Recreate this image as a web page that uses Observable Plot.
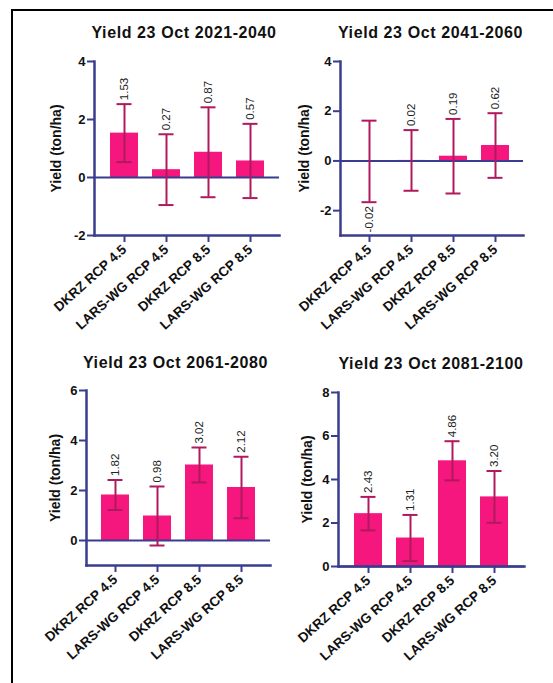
<!DOCTYPE html>
<html><head><meta charset="utf-8">
<script src="https://cdn.jsdelivr.net/npm/d3@7"></script>
<script src="https://cdn.jsdelivr.net/npm/@observablehq/plot@0.6"></script>
<style>
body{margin:0;background:#fff;width:553px;height:683px;position:relative;overflow:hidden;font-family:"Liberation Sans",Arial,sans-serif;}
.frame-l{position:absolute;left:11px;top:9px;width:2px;height:674px;background:#000}
.frame-t{position:absolute;left:11px;top:9px;width:542px;height:2px;background:#000}
.title{position:absolute;font-weight:bold;font-size:16px;letter-spacing:0.6px;line-height:16px;transform:translateX(-50%);white-space:nowrap;color:#111}
.panel{position:absolute}
</style></head><body>
<div class="frame-l"></div><div class="frame-t"></div>
<script>
// ---- data ----
const categories = ["DKRZ RCP 4.5", "LARS-WG RCP 4.5", "DKRZ RCP 8.5", "LARS-WG RCP 8.5"];
const titles = ["Yield 23 Oct 2021-2040", "Yield 23 Oct 2041-2060", "Yield 23 Oct 2061-2080", "Yield 23 Oct 2081-2100"];
const yLabel = "Yield (ton/ha)";
const mean2021 = [1.53, 0.27, 0.87, 0.57];
const err2021  = [1.00, 1.22, 1.55, 1.28];
const mean2041 = [-0.02, 0.02, 0.19, 0.62];
const err2041  = [1.64, 1.22, 1.50, 1.30];
const mean2061 = [1.82, 0.98, 3.02, 2.12];
const err2061  = [0.60, 1.18, 0.70, 1.23];
const mean2081 = [2.43, 1.31, 4.86, 3.20];
const err2081  = [0.77, 1.06, 0.90, 1.19];
const yDomains = [[-2, 4], [-3, 4], [-1, 6], [0, 8]];
const yTicks = [[-2, 0, 2, 4], [-2, 0, 2, 4], [0, 2, 4, 6], [0, 2, 4, 6, 8]];

const means = [mean2021, mean2041, mean2061, mean2081];
const errs = [err2021, err2041, err2061, err2081];

// ---- styling / layout ----
const barColor = "#f5177d", errColor = "#b0195e", axisColor = "#3a3d8f";
const layout = [
  {left: 0,   top: 45,  w: 285, h: 295, ml: 94, mr: 6,  mt: 16, mb: 105, yl: 37.5, tx: 184,   ty: 24.5},
  {left: 285, top: 45,  w: 268, h: 295, ml: 55, mr: 30, mt: 16, mb: 105, yl: 35.7, tx: 430.5, ty: 24.5},
  {left: 0,   top: 375, w: 285, h: 308, ml: 86, mr: 15, mt: 15, mb: 118, yl: 31,   tx: 175.5, ty: 354.5},
  {left: 285, top: 375, w: 268, h: 308, ml: 53, mr: 29, mt: 17, mb: 117, yl: 31,   tx: 431,   ty: 355.5}
];
const font = "'Liberation Sans', Arial, sans-serif";

for (let i = 0; i < 4; i++) {
  const L = layout[i];
  const data = categories.map((c, j) => ({c, m: means[i][j], e: errs[i][j]}));
  const chart = Plot.plot({
    width: L.w, height: L.h,
    marginLeft: L.ml, marginRight: L.mr, marginTop: L.mt, marginBottom: L.mb,
    style: {fontFamily: font, background: "transparent", overflow: "visible"},
    x: {domain: categories, padding: 0.34, label: null},
    y: {domain: yDomains[i], label: null},
    marks: [
      Plot.barY(data, {x: "c", y: "m", fill: barColor}),
      Plot.ruleY([0], {stroke: axisColor, strokeWidth: 2}),
      Plot.ruleX(data, {x: "c", y1: d => d.m - d.e, y2: d => d.m + d.e, stroke: errColor, strokeWidth: 2}),
      Plot.tickY(data, {x: "c", y: d => d.m + d.e, stroke: errColor, strokeWidth: 2, insetLeft: 6.5, insetRight: 6.5}),
      Plot.tickY(data, {x: "c", y: d => d.m - d.e, stroke: errColor, strokeWidth: 2, insetLeft: 6.5, insetRight: 6.5}),
      Plot.text(data.filter(d => d.m >= 0), {x: "c", y: d => d.m + d.e, text: d => d.m.toFixed(2), rotate: -90, textAnchor: "start", dy: -4, fontSize: 11.5, fill: "#222"}),
      Plot.text(data.filter(d => d.m < 0), {x: "c", y: d => d.m - d.e, text: d => d.m.toFixed(2), rotate: -90, textAnchor: "end", dy: 4, fontSize: 11.5, fill: "#222"}),
      Plot.frame({anchor: "left", stroke: axisColor, strokeWidth: 2.5}),
      Plot.frame({anchor: "bottom", stroke: axisColor, strokeWidth: 2.5}),
      Plot.axisY({ticks: yTicks[i], tickFormat: d => String(d), tickSize: 7, tickPadding: 2, stroke: axisColor, strokeWidth: 2, fill: "#111", fontWeight: "bold", fontSize: 13, label: null}),
      Plot.axisX({tickSize: 7, tickPadding: 5, tickRotate: -42, stroke: axisColor, strokeWidth: 2, fill: "#111", fontWeight: "bold", fontSize: 13.5, label: null}),
      Plot.text([yLabel], {frameAnchor: "left", textAnchor: "middle", dx: -L.yl, rotate: -90, fontWeight: "bold", fontSize: 14, fill: "#111"})
    ]
  });
  const wrap = document.createElement("div");
  wrap.className = "panel";
  wrap.style.left = L.left + "px";
  wrap.style.top = L.top + "px";
  wrap.appendChild(chart);
  document.body.appendChild(wrap);
  const t = document.createElement("div");
  t.className = "title";
  t.textContent = titles[i];
  t.style.left = L.tx + "px";
  t.style.top = L.ty + "px";
  document.body.appendChild(t);
}
</script>
</body></html>
